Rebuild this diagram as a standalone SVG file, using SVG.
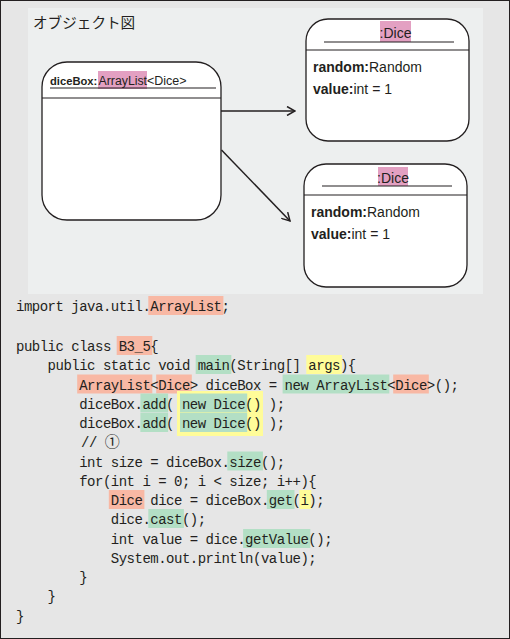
<svg xmlns="http://www.w3.org/2000/svg" width="510" height="639" viewBox="0 0 510 639">
<defs>
<style>
.box{fill:#ffffff;stroke:#231f20;stroke-width:1.3}
.ln{stroke:#231f20;stroke-width:1.2}
.conn{stroke:#231f20;stroke-width:1.5;fill:none}
.t{font-family:"Liberation Sans",Arial,sans-serif;fill:#231f20}
.b{font-weight:bold}
.jp{font-family:"Noto Sans CJK JP",sans-serif;font-size:14.6px;fill:#231f20}
.code{font-family:"Liberation Mono","DejaVu Sans Mono",monospace;font-size:14px;letter-spacing:-0.5px;fill:#231f20;white-space:pre}
.circ{font-family:"Noto Sans CJK JP","DejaVu Sans",sans-serif;font-size:15px;letter-spacing:0}
.pk{fill:#e3a0c2}
.sa{fill:#f8b8a4}
.gr{fill:#b3dfc5}
.ye{fill:#fffc99}
</style>
<marker id="arr" viewBox="0 0 10 10" markerWidth="10" markerHeight="10" refX="9" refY="5" orient="auto" markerUnits="userSpaceOnUse">
<path d="M1,0.5 L9,5 L1,9.5" fill="none" stroke="#231f20" stroke-width="1.5"/>
</marker>
</defs>
<rect x="0.5" y="0.5" width="509" height="638" fill="#e6e6e6" stroke="#231f20" stroke-width="1"/>
<rect x="28" y="8" width="455" height="286" fill="#edefef"/>
<text class="jp" x="33" y="28">オブジェクト図</text>

<g id="diceBox">
<rect class="box" x="42" y="62" width="179" height="158" rx="25" ry="25"/>
<rect class="pk" x="98" y="71" width="49" height="18"/>
<text class="t b" x="50" y="85" font-size="11.2">diceBox:</text>
<text class="t" x="98.5" y="85" font-size="12.3">ArrayList</text>
<text class="t" x="147" y="85" font-size="12.5">&lt;Dice&gt;</text>
<line class="ln" x1="50" y1="88" x2="216" y2="88"/>
<line class="ln" x1="42" y1="98" x2="221" y2="98"/>
</g>

<g id="dice1">
<rect class="box" x="306" y="19" width="163" height="122" rx="22" ry="22"/>
<rect class="pk" x="380" y="21" width="31" height="21"/>
<text class="t" x="395.5" y="37.5" font-size="14" text-anchor="middle">:Dice</text>
<line class="ln" x1="324" y1="42" x2="454" y2="42"/>
<line class="ln" x1="306" y1="50" x2="469" y2="50"/>
<text class="t" x="313" y="72" font-size="14"><tspan class="b">random:</tspan>Random</text>
<text class="t" x="313" y="94" font-size="14"><tspan class="b">value:</tspan>int = 1</text>
</g>

<g id="dice2">
<rect class="box" x="304" y="164" width="163" height="123" rx="22" ry="22"/>
<rect class="pk" x="378" y="167" width="30" height="19"/>
<text class="t" x="393" y="183" font-size="14" text-anchor="middle">:Dice</text>
<line class="ln" x1="322" y1="186" x2="452" y2="186"/>
<line class="ln" x1="304" y1="195" x2="467" y2="195"/>
<text class="t" x="311" y="217" font-size="14"><tspan class="b">random:</tspan>Random</text>
<text class="t" x="311" y="239" font-size="14"><tspan class="b">value:</tspan>int = 1</text>
</g>

<g id="connectors">
<line class="conn" x1="221" y1="111" x2="295" y2="111" marker-end="url(#arr)"/>
<line class="conn" x1="221.5" y1="150" x2="290" y2="221" marker-end="url(#arr)"/>
</g>

<g id="code">
<rect class="sa" x="148.3" y="296" width="75.1" height="19"/>
<rect class="sa" x="116.7" y="336" width="35.6" height="19"/>
<rect class="gr" x="195.7" y="355" width="35.6" height="19"/>
<rect class="ye" x="306.3" y="355" width="35.6" height="19"/>
<rect class="sa" x="77.2" y="374.5" width="75.1" height="19"/>
<rect class="sa" x="156.2" y="374.5" width="35.6" height="19"/>
<rect class="gr" x="282.6" y="374.5" width="106.7" height="19"/>
<rect class="sa" x="393.2" y="374.5" width="35.6" height="19"/>
<rect class="gr" x="140.4" y="393.5" width="27.7" height="19"/>
<rect class="gr" x="140.4" y="413" width="27.7" height="19"/>
<rect class="ye" x="177" y="391" width="86" height="45"/>
<rect class="gr" x="180" y="393.5" width="67.2" height="19"/>
<rect class="gr" x="180" y="413" width="67.2" height="19"/>
<rect class="gr" x="227.3" y="451.5" width="35.6" height="19"/>
<rect class="sa" x="108.8" y="490" width="35.6" height="19"/>
<rect class="gr" x="266.8" y="490" width="27.7" height="19"/>
<rect class="ye" x="299.4" y="490" width="11.9" height="19"/>
<rect class="gr" x="148.3" y="509" width="35.6" height="19"/>
<rect class="gr" x="243.1" y="529" width="67.2" height="19"/>

<text class="code" x="16" y="311">import java.util.ArrayList;</text>
<text class="code" x="16" y="351">public class B3_5{</text>
<text class="code" x="47.6" y="370">public static void main(String[] args){</text>
<text class="code" x="79.2" y="389.5">ArrayList&lt;Dice&gt; diceBox = new ArrayList&lt;Dice&gt;();</text>
<text class="code" x="79.2" y="408.5">diceBox.add( new Dice() );</text>
<text class="code" x="79.2" y="428">diceBox.add( new Dice() );</text>
<text class="code" x="81" y="447">// <tspan class="circ">①</tspan></text>
<text class="code" x="79.2" y="466.5">int size = diceBox.size();</text>
<text class="code" x="79.2" y="486">for(int i = 0; i &lt; size; i++){</text>
<text class="code" x="110.8" y="505">Dice dice = diceBox.get(i);</text>
<text class="code" x="110.8" y="524">dice.cast();</text>
<text class="code" x="110.8" y="544">int value = dice.getValue();</text>
<text class="code" x="110.8" y="563">System.out.println(value);</text>
<text class="code" x="79.2" y="582">}</text>
<text class="code" x="47.6" y="601">}</text>
<text class="code" x="16" y="621">}</text>
</g>
</svg>
